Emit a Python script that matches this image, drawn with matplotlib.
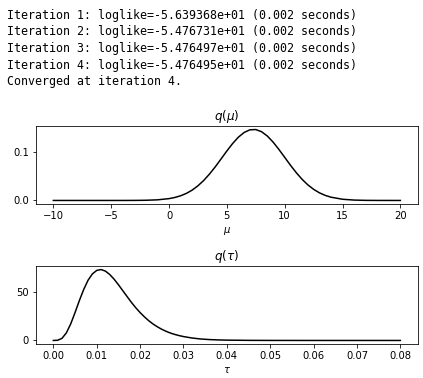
import matplotlib
matplotlib.use("Agg")
import matplotlib.pyplot as plt

log_lines = [
    "Iteration 1: loglike=-5.639368e+01 (0.002 seconds)",
    "Iteration 2: loglike=-5.476731e+01 (0.002 seconds)",
    "Iteration 3: loglike=-5.476497e+01 (0.002 seconds)",
    "Iteration 4: loglike=-5.476495e+01 (0.002 seconds)",
    "Converged at iteration 4.",
]

mu_x = [-10, -8, -6, -4, -3, -2, -1, 0, 0.5, 1, 1.5, 2, 2.5, 3, 3.5, 4, 4.5, 5, 5.5,
        6, 6.5, 7, 7.5, 8, 8.5, 9, 9.5, 10, 10.5, 11, 11.5, 12, 12.5, 13, 13.5,
        14, 15, 16, 17, 18, 20]
mu_q = [0, 0, 0.000001, 0.00002, 0.0001, 0.0004, 0.0013, 0.0038, 0.0062, 0.0097,
        0.0147, 0.0215, 0.0305, 0.0416, 0.055, 0.070, 0.0864, 0.103, 0.1185,
        0.1318, 0.1416, 0.1471, 0.1476, 0.1431, 0.1341, 0.1214, 0.1062, 0.0898,
        0.0733, 0.0579, 0.0441, 0.0325, 0.0232, 0.0159, 0.0106, 0.0068, 0.0025,
        0.0008, 0.0002, 0.00005, 0]

tau_x = [0, 0.001, 0.002, 0.003, 0.004, 0.005, 0.006, 0.007, 0.008, 0.009, 0.010,
         0.011, 0.012, 0.013, 0.014, 0.015, 0.016, 0.017, 0.018, 0.019, 0.020,
         0.021, 0.022, 0.023, 0.024, 0.025, 0.026, 0.027, 0.028, 0.029, 0.030,
         0.032, 0.034, 0.036, 0.038, 0.040, 0.045, 0.050, 0.060, 0.070, 0.080]
tau_q = [0, 0.2, 2.2, 7.8, 17.0, 28.7, 41.1, 52.5, 62.0, 68.5, 72.1, 73.0, 71.4,
         67.9, 63.1, 57.4, 51.3, 45.2, 39.2, 33.7, 28.7, 24.3, 20.3, 16.9, 14.0,
         11.5, 9.4, 7.6, 6.2, 5.0, 4.0, 2.5, 1.5, 0.9, 0.55, 0.33, 0.1, 0.03, 0, 0, 0]

W, H = 423, 378
fig = plt.figure(figsize=(W / 72, H / 72), dpi=72)

for i, line in enumerate(log_lines):
    fig.text(7 / W, 1 - (18.5 + i * 16.7) / H, line, family="DejaVu Sans Mono",
             fontsize=11.6, ha="left", va="baseline")

ax1 = fig.add_axes([36 / W, (H - 204) / H, 381.7 / W, 78 / H])
ax1.plot(mu_x, mu_q, color="black", lw=1.5)
ax1.set_title(r"$q(\mu)$")
ax1.set_xlabel(r"$\mu$")

ax2 = fig.add_axes([36 / W, (H - 344) / H, 381.7 / W, 78 / H])
ax2.plot(tau_x, tau_q, color="black", lw=1.5)
ax2.set_title(r"$q(\tau)$")
ax2.set_xlabel(r"$\tau$")

fig.savefig("out.png", dpi=72, facecolor="white")
